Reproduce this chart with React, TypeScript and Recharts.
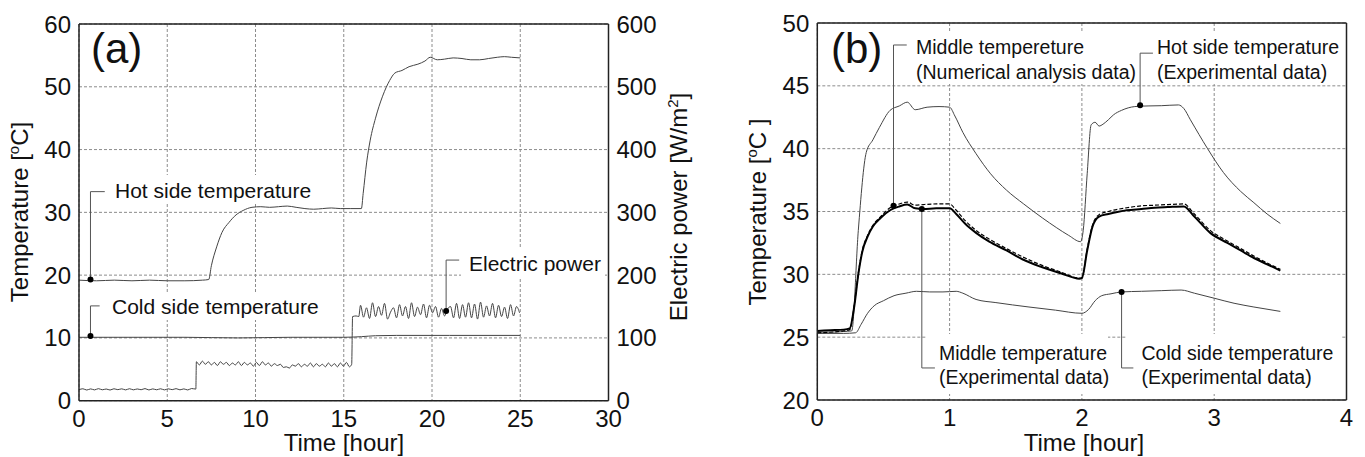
import {
  LineChart,
  Line,
  XAxis,
  YAxis,
  CartesianGrid,
  ReferenceLine,
  ReferenceDot,
} from "recharts";

// ===== DATA: panel (a) [hour, value] =====
const hoursTicksA = [0, 5, 10, 15, 20, 25, 30];
const tempTicksA = [0, 10, 20, 30, 40, 50, 60];
const powerTicksA = [0, 100, 200, 300, 400, 500, 600];

const hotSideA: [number, number][] = [
  [0, 19.2], [1, 19.1], [2, 19.2], [3, 19.1], [4, 19.2], [5, 19.1], [6, 19.1],
  [7, 19.2], [7.35, 19.3], [7.5, 21.5], [7.8, 24.5], [8.1, 26.8], [8.5, 28.4],
  [8.9, 29.6], [9.3, 30.3], [9.8, 30.8], [10.3, 30.9], [10.8, 30.8], [11.3, 30.9],
  [11.8, 31.0], [12.3, 30.8], [12.8, 30.6], [13.3, 30.5], [13.8, 30.6], [14.3, 30.7],
  [14.8, 30.6], [15.4, 30.6], [16.0, 30.6], [16.1, 33], [16.3, 38], [16.5, 41.5],
  [16.8, 45], [17.2, 48.5], [17.6, 51], [17.9, 52.2], [18.3, 52.6], [18.7, 53.2],
  [19.2, 53.6], [19.6, 54.1], [19.9, 54.7], [20.3, 54.3], [20.7, 54.4], [21.2, 54.6],
  [21.7, 54.5], [22.2, 54.3], [22.7, 54.3], [23.2, 54.5], [23.7, 54.7], [24.1, 54.8],
  [24.5, 54.7], [25.0, 54.6],
];

const coldSideA: [number, number][] = [
  [0, 10.1], [3, 10.1], [6, 10.1], [9, 10.0], [12, 10.1], [15, 10.1], [16, 10.2],
  [16.8, 10.35], [18, 10.4], [21, 10.4], [25, 10.4],
];

const electricPowerA: [number, number][] = [
  [0.0, 17.5], [0.22, 19], [0.44, 17], [0.66, 18.8], [0.88, 17.2], [1.1, 19.2],
  [1.32, 17.4], [1.54, 18.6], [1.76, 17], [1.98, 19], [2.2, 17.6], [2.42, 18.9],
  [2.64, 17.2], [2.86, 19.1], [3.08, 17.3], [3.3, 18.7], [3.52, 17.5], [3.74, 19.3],
  [3.96, 17.1], [4.18, 18.8], [4.4, 17.4], [4.62, 19], [4.84, 17.2], [5.06, 18.9],
  [5.28, 17.6], [5.5, 19.2], [5.72, 17.3], [5.94, 18.8], [6.16, 17.1], [6.38, 19.4],
  [6.62, 18.5],
  [6.65, 62], [6.82, 57], [6.99, 63], [7.16, 58], [7.33, 62], [7.5, 57], [7.67, 61],
  [7.84, 56], [8.01, 62], [8.18, 58], [8.35, 61], [8.52, 56], [8.69, 60], [8.86, 57],
  [9.03, 62], [9.2, 56], [9.37, 61], [9.54, 57], [9.71, 60], [9.88, 55], [10.05, 61],
  [10.22, 56], [10.39, 62], [10.56, 57], [10.73, 60], [10.9, 55], [11.07, 59],
  [11.24, 56], [11.41, 58], [11.58, 53], [11.75, 54], [11.92, 52], [12.09, 57],
  [12.26, 55], [12.43, 59], [12.6, 54], [12.77, 58], [12.94, 55], [13.11, 60],
  [13.28, 54], [13.45, 59], [13.62, 55], [13.79, 58], [13.96, 54], [14.13, 60],
  [14.3, 55], [14.47, 59], [14.64, 54], [14.81, 60], [14.98, 55], [15.15, 61],
  [15.32, 54], [15.45, 58],
  [15.5, 134], [15.7, 135], [15.85, 134],
  [15.95, 152], [16.12, 133], [16.29, 148], [16.46, 131], [16.63, 156], [16.8, 134],
  [16.97, 150], [17.14, 136], [17.31, 155], [17.48, 130], [17.65, 141], [17.82, 148],
  [17.99, 132], [18.16, 153], [18.33, 135], [18.5, 150], [18.67, 131], [18.84, 156],
  [19.01, 134], [19.18, 149], [19.35, 137], [19.52, 154], [19.69, 132], [19.86, 152],
  [20.03, 140], [20.2, 150], [20.37, 133], [20.54, 147], [20.71, 135], [20.88, 146],
  [21.05, 150], [21.22, 132], [21.39, 155], [21.56, 131], [21.73, 153], [21.9, 133],
  [22.07, 156], [22.24, 132], [22.41, 154], [22.58, 130], [22.75, 157], [22.92, 133],
  [23.09, 151], [23.26, 135], [23.43, 155], [23.6, 132], [23.77, 152], [23.94, 134],
  [24.11, 149], [24.28, 131], [24.45, 153], [24.62, 135], [24.79, 150], [24.96, 140],
];

// ===== DATA: panel (b) [hour, value] =====
const hoursTicksB = [0, 1, 2, 3, 4];
const tempTicksB = [20, 25, 30, 35, 40, 45, 50];

const hotSideB: [number, number][] = [
  [0, 25.4], [0.1, 25.4], [0.2, 25.45], [0.26, 25.5], [0.31, 33.5], [0.37, 39.7],
  [0.42, 40.7], [0.47, 41.7], [0.55, 43.05], [0.62, 43.4], [0.68, 43.7], [0.74, 43.1],
  [0.83, 43.3], [0.92, 43.35], [1.0, 43.3], [1.04, 42.6], [1.1, 41.3], [1.2, 39.6],
  [1.31, 38.0], [1.43, 36.7], [1.56, 35.6], [1.7, 34.5], [1.81, 33.7], [1.9, 33.1],
  [1.99, 32.6], [2.01, 33.5], [2.04, 38], [2.07, 41.9], [2.1, 42.1], [2.13, 41.8],
  [2.16, 41.95], [2.2, 42.3], [2.24, 42.7], [2.3, 43.05], [2.4, 43.35], [2.5, 43.4],
  [2.6, 43.42], [2.73, 43.48], [2.77, 43.2], [2.82, 42.3], [2.95, 40.0], [3.07, 38.1],
  [3.2, 36.6], [3.3, 35.7], [3.4, 34.8], [3.5, 34.05],
];

const middleExpB: [number, number][] = [
  [0, 25.5], [0.1, 25.55], [0.2, 25.6], [0.245, 25.7], [0.28, 27.5], [0.31, 30],
  [0.34, 31.8], [0.38, 33.0], [0.42, 33.8], [0.48, 34.5], [0.55, 35.1], [0.62, 35.4],
  [0.68, 35.55], [0.74, 35.25], [0.8, 35.2], [0.9, 35.25], [1.0, 35.25], [1.05, 34.8],
  [1.12, 34.0], [1.2, 33.3], [1.3, 32.6], [1.43, 31.9], [1.55, 31.2], [1.69, 30.6],
  [1.85, 30.05], [1.98, 29.65], [2.0, 29.7], [2.04, 31.9], [2.08, 33.8], [2.13, 34.6],
  [2.2, 34.8], [2.34, 35.1], [2.45, 35.2], [2.55, 35.3], [2.65, 35.35], [2.77, 35.4],
  [2.85, 34.6], [2.97, 33.3], [3.1, 32.5], [3.2, 31.9], [3.3, 31.3], [3.4, 30.8],
  [3.5, 30.3],
];

const middleNumB: [number, number][] = [
  [0, 25.35], [0.2, 25.5], [0.245, 25.6], [0.28, 27.6], [0.31, 30.1], [0.34, 31.9],
  [0.38, 33.1], [0.42, 33.9], [0.48, 34.6], [0.55, 35.3], [0.62, 35.6], [0.68, 35.75],
  [0.74, 35.5], [0.8, 35.55], [0.9, 35.6], [1.0, 35.6], [1.05, 35.1], [1.12, 34.25],
  [1.2, 33.5], [1.3, 32.8], [1.43, 32.05], [1.55, 31.4], [1.69, 30.75], [1.85, 30.15],
  [1.98, 29.7], [2.0, 29.75], [2.04, 32.0], [2.08, 33.9], [2.13, 34.75], [2.2, 35.0],
  [2.34, 35.3], [2.45, 35.45], [2.55, 35.5], [2.65, 35.55], [2.77, 35.6], [2.85, 34.8],
  [2.97, 33.5], [3.1, 32.65], [3.2, 32.05], [3.3, 31.45], [3.4, 30.9], [3.5, 30.4],
];

const coldSideB: [number, number][] = [
  [0, 25.3], [0.2, 25.3], [0.29, 25.35], [0.33, 26.0], [0.38, 26.9], [0.43, 27.5],
  [0.5, 27.9], [0.58, 28.3], [0.67, 28.5], [0.75, 28.65], [0.85, 28.6], [0.95, 28.6],
  [1.05, 28.65], [1.1, 28.5], [1.2, 28.0], [1.35, 27.75], [1.6, 27.4], [1.8, 27.15],
  [2.0, 26.9], [2.05, 27.2], [2.1, 27.9], [2.15, 28.3], [2.22, 28.45], [2.3, 28.6],
  [2.45, 28.65], [2.6, 28.7], [2.75, 28.75], [2.85, 28.5], [3.0, 28.1], [3.15, 27.7],
  [3.3, 27.4], [3.5, 27.05],
];

const toPoints = (pairs: [number, number][]) => pairs.map(([h, v]) => ({ h, v }));

// ===== STYLE =====
const FONT = "'Liberation Sans', Arial, Helvetica, sans-serif";
const INK = "#111";
const LINE = "#444";
const LEADER = "#555";
const GRID = "#8c8c8c";
const tickStyle = { fontSize: 24, fill: INK, fontFamily: FONT };
const axisLine = { stroke: "#222", strokeWidth: 1.5 };

// ===== PANEL (a) =====
function PanelA() {
  return (
    <LineChart
      width={700}
      height={457}
      margin={{ top: 24, right: 21.5, bottom: 26.3, left: 19 }}
    >
      <CartesianGrid stroke={GRID} strokeDasharray="3 2" yAxisId="temp" />
      <XAxis
        type="number"
        dataKey="h"
        domain={[0, 30]}
        ticks={hoursTicksA}
        interval={0}
        height={30}
        tickSize={0}
        tickMargin={9}
        tick={tickStyle}
        axisLine={axisLine}
        tickLine={false}
      />
      <YAxis
        yAxisId="temp"
        domain={[0, 60]}
        ticks={tempTicksA}
        interval={0}
        width={60}
        tickSize={0}
        tickMargin={8}
        tick={tickStyle}
        axisLine={axisLine}
        tickLine={false}
      />
      <YAxis
        yAxisId="power"
        orientation="right"
        domain={[0, 600]}
        ticks={powerTicksA}
        interval={0}
        width={70}
        tickSize={0}
        tickMargin={8}
        tick={tickStyle}
        axisLine={axisLine}
        tickLine={false}
      />
      <ReferenceLine yAxisId="temp" y={60} stroke="#222" strokeWidth={1.5} />

      <Line yAxisId="temp" data={toPoints(hotSideA)} dataKey="v" type="monotone" stroke={LINE} strokeWidth={1} dot={false} activeDot={false} isAnimationActive={false} />
      <Line yAxisId="temp" data={toPoints(coldSideA)} dataKey="v" type="monotone" stroke={LINE} strokeWidth={1} dot={false} activeDot={false} isAnimationActive={false} />
      <Line yAxisId="power" data={toPoints(electricPowerA)} dataKey="v" type="monotone" stroke={LINE} strokeWidth={1} dot={false} activeDot={false} isAnimationActive={false} />

      {/* leaders */}
      <ReferenceLine yAxisId="temp" segment={[{ x: 0.65, y: 19.3 }, { x: 0.65, y: 33.3 }]} stroke={LEADER} />
      <ReferenceLine yAxisId="temp" segment={[{ x: 0.65, y: 33.3 }, { x: 1.46, y: 33.3 }]} stroke={LEADER} />
      <ReferenceDot yAxisId="temp" x={0.65} y={19.3} r={3} fill="#000" stroke="none" />
      <ReferenceLine yAxisId="temp" segment={[{ x: 0.65, y: 10.3 }, { x: 0.65, y: 15.1 }]} stroke={LEADER} />
      <ReferenceLine yAxisId="temp" segment={[{ x: 0.65, y: 15.1 }, { x: 1.17, y: 15.1 }]} stroke={LEADER} />
      <ReferenceDot yAxisId="temp" x={0.65} y={10.3} r={3} fill="#000" stroke="none" />
      <ReferenceLine yAxisId="power" segment={[{ x: 20.8, y: 143 }, { x: 20.8, y: 224 }]} stroke={LEADER} />
      <ReferenceLine yAxisId="power" segment={[{ x: 20.8, y: 224 }, { x: 21.54, y: 224 }]} stroke={LEADER} />
      <ReferenceDot yAxisId="power" x={20.8} y={143} r={3} fill="#000" stroke="none" />
    </LineChart>
  );
}

// ===== PANEL (b) =====
function PanelB() {
  return (
    <LineChart
      width={665}
      height={457}
      margin={{ top: 23, right: 18.5, bottom: 27, left: 57.3 }}
    >
      <CartesianGrid stroke={GRID} strokeDasharray="3 2" />
      <XAxis
        type="number"
        dataKey="h"
        domain={[0, 4]}
        ticks={hoursTicksB}
        interval={0}
        height={30}
        tickSize={0}
        tickMargin={9}
        tick={tickStyle}
        axisLine={axisLine}
        tickLine={false}
      />
      <YAxis
        domain={[20, 50]}
        ticks={tempTicksB}
        interval={0}
        width={60}
        tickSize={0}
        tickMargin={8}
        tick={tickStyle}
        axisLine={axisLine}
        tickLine={false}
      />
      <ReferenceLine y={50} stroke="#222" strokeWidth={1.5} />
      <ReferenceLine x={4} stroke="#222" strokeWidth={1.5} />

      <Line data={toPoints(hotSideB)} dataKey="v" type="monotone" stroke={LINE} strokeWidth={1} dot={false} activeDot={false} isAnimationActive={false} />
      <Line data={toPoints(coldSideB)} dataKey="v" type="monotone" stroke={LINE} strokeWidth={1} dot={false} activeDot={false} isAnimationActive={false} />
      <Line data={toPoints(middleNumB)} dataKey="v" type="monotone" stroke="#000" strokeWidth={1.2} strokeDasharray="4 2" dot={false} activeDot={false} isAnimationActive={false} />
      <Line data={toPoints(middleExpB)} dataKey="v" type="monotone" stroke="#000" strokeWidth={2} dot={false} activeDot={false} isAnimationActive={false} />

      {/* leaders */}
      <ReferenceLine segment={[{ x: 0.576, y: 35.45 }, { x: 0.576, y: 48.25 }]} stroke={LEADER} />
      <ReferenceLine segment={[{ x: 0.576, y: 48.25 }, { x: 0.676, y: 48.25 }]} stroke={LEADER} />
      <ReferenceDot x={0.576} y={35.45} r={3} fill="#000" stroke="none" />
      <ReferenceLine segment={[{ x: 2.44, y: 43.45 }, { x: 2.44, y: 47.6 }]} stroke={LEADER} />
      <ReferenceLine segment={[{ x: 2.44, y: 47.6 }, { x: 2.537, y: 47.6 }]} stroke={LEADER} />
      <ReferenceDot x={2.44} y={43.45} r={3} fill="#000" stroke="none" />
      <ReferenceLine segment={[{ x: 0.79, y: 35.2 }, { x: 0.79, y: 22.55 }]} stroke={LEADER} />
      <ReferenceLine segment={[{ x: 0.79, y: 22.55 }, { x: 0.889, y: 22.55 }]} stroke={LEADER} />
      <ReferenceDot x={0.79} y={35.2} r={3} fill="#000" stroke="none" />
      <ReferenceLine segment={[{ x: 2.3, y: 28.6 }, { x: 2.3, y: 22.55 }]} stroke={LEADER} />
      <ReferenceLine segment={[{ x: 2.3, y: 22.55 }, { x: 2.389, y: 22.55 }]} stroke={LEADER} />
      <ReferenceDot x={2.3} y={28.6} r={3} fill="#000" stroke="none" />
    </LineChart>
  );
}

// ===== TEXT OVERLAY (titles, labels; white boxes hide grid under labels) =====
function Overlay() {
  return (
    <svg
      width={1365}
      height={457}
      style={{ position: "absolute", left: 0, top: 0, pointerEvents: "none" }}
      fontFamily={FONT}
      fill={INK}
    >
      {/* label backgrounds */}
      <rect x={107} y={175} width={213} height={28} fill="#fff" />
      <rect x={102} y={293} width={228} height={27} fill="#fff" />
      <rect x={461} y={247} width={144} height={32} fill="#fff" />
      <rect x={909} y={32} width={181} height={52} fill="#fff" />
      <rect x={1155} y={32} width={187} height={52} fill="#fff" />
      <rect x={937} y={334} width={171} height={60} fill="#fff" />
      <rect x={926} y={334} width={11} height={28} fill="#fff" />
      <rect x={1136} y={334} width={206} height={60} fill="#fff" />
      <rect x={1126} y={334} width={10} height={28} fill="#fff" />

      {/* panel letters */}
      <text x={91} y={63} fontSize={42}>(a)</text>
      <text x={831} y={63} fontSize={42}>(b)</text>

      {/* panel (a) labels */}
      <text x={115} y={197.5} fontSize={21}>Hot side temperature</text>
      <text x={112} y={314} fontSize={21}>Cold side temperature</text>
      <text x={469} y={271} fontSize={21}>Electric power</text>

      {/* panel (b) labels */}
      <text x={916} y={53.5} fontSize={19.5}>Middle tempereture</text>
      <text x={916} y={78.5} fontSize={19.5}>(Numerical analysis data)</text>
      <text x={1157} y={53.5} fontSize={19.5}>Hot side temperature</text>
      <text x={1157} y={78.5} fontSize={19.5}>(Experimental data)</text>
      <text x={939} y={360} fontSize={19.5}>Middle temperature</text>
      <text x={939} y={383.5} fontSize={19.5}>(Experimental data)</text>
      <text x={1141.5} y={360} fontSize={19.5}>Cold side temperature</text>
      <text x={1141.5} y={383.5} fontSize={19.5}>(Experimental data)</text>

      {/* axis titles */}
      <text x={344} y={451} fontSize={24} textAnchor="middle">Time [hour]</text>
      <text x={1084} y={451} fontSize={24} textAnchor="middle">Time [hour]</text>
      <text transform="translate(28 212) rotate(-90)" fontSize={24} textAnchor="middle">
        Temperature [<tspan dy={-9} fontSize={15}>o</tspan><tspan dy={9}>C]</tspan>
      </text>
      <text transform="translate(687 207) rotate(-90)" fontSize={24} textAnchor="middle">
        Electric power [W/m<tspan dy={-9} fontSize={15}>2</tspan><tspan dy={9}>]</tspan>
      </text>
      <text transform="translate(766 212) rotate(-90)" fontSize={24} textAnchor="middle">
        Temperature [<tspan dy={-9} fontSize={15}>o</tspan><tspan dy={9}>C ]</tspan>
      </text>
    </svg>
  );
}

export default function App() {
  return (
    <div
      style={{
        position: "absolute",
        left: 0,
        top: 0,
        width: 1365,
        height: 457,
        background: "#fff",
        overflow: "hidden",
      }}
    >
      <div style={{ position: "absolute", left: 0, top: 0 }}>
        <PanelA />
      </div>
      <div style={{ position: "absolute", left: 700, top: 0 }}>
        <PanelB />
      </div>
      <Overlay />
    </div>
  );
}
